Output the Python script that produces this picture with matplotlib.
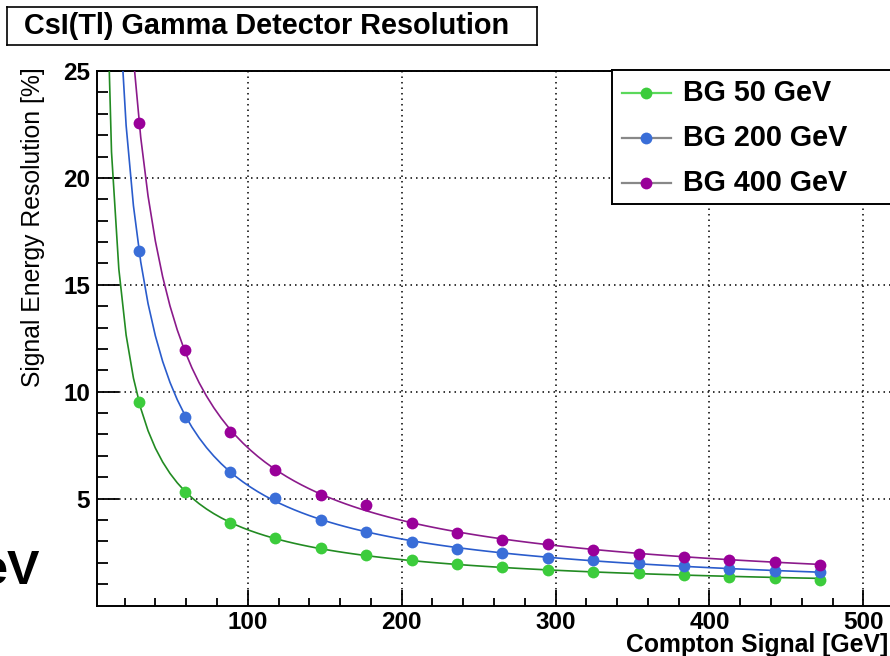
import numpy as np
import matplotlib
matplotlib.use("Agg")
import matplotlib.pyplot as plt
from matplotlib.lines import Line2D

plt.rcParams['font.family'] = ['Liberation Sans', 'DejaVu Sans']

# Compton signal energies (GeV)
signal_gev = [29.5, 59, 88.5, 118, 147.5, 177, 206.5, 236, 265.5, 295,
              324.5, 354, 383.5, 413, 442.5, 472]

# Signal energy resolution (%) for each background level
res_bg50 = [9.50, 5.31, 3.86, 3.16, 2.69, 2.35, 2.11, 1.92, 1.80, 1.67,
            1.59, 1.52, 1.41, 1.35, 1.30, 1.21]
res_bg200 = [16.57, 8.83, 6.25, 5.05, 4.02, 3.44, 2.99, 2.66, 2.45, 2.24,
             2.11, 1.98, 1.86, 1.72, 1.61, 1.55]
res_bg400 = [22.57, 11.96, 8.13, 6.33, 5.19, 4.69, 3.86, 3.41, 3.08, 2.86,
             2.61, 2.42, 2.27, 2.14, 2.02, 1.91]

series_labels = ["BG 50 GeV", "BG 200 GeV", "BG 400 GeV"]
marker_colors = ["#3ccc3c", "#3a6ed8", "#990099"]
curve_colors = ["#228b22", "#2a5ccc", "#8b1a8b"]
legend_line_colors = ["#5bd85b", "#888888", "#888888"]

x_ticks = [100, 200, 300, 400, 500]
y_ticks = [5, 10, 15, 20, 25]


def fit_power(x, y):
    """Least-squares fit of y = a * x**-p + c (scan p, linear in a, c)."""
    x = np.asarray(x, float)
    y = np.asarray(y, float)
    best = None
    for p in np.linspace(0.4, 1.6, 601):
        A = np.column_stack([x ** -p, np.ones_like(x)])
        coef, *_ = np.linalg.lstsq(A, y, rcond=None)
        err = np.sum((A @ coef - y) ** 2)
        if best is None or err < best[0]:
            best = (err, coef[0], p, coef[1])
    _, a, p, c = best
    return lambda t: a * np.asarray(t, float) ** -p + c


W, H = 890, 656
fig = plt.figure(figsize=(W / 100, H / 100), dpi=100)


def px_axes(x0, y0, x1, y1):
    return fig.add_axes([x0 / W, 1 - y1 / H, (x1 - x0) / W, (y1 - y0) / H])


ax = px_axes(96.9, 71, 894.1, 605.5)
ax.set_xlim(2, 520)
ax.set_ylim(0, 25)

for y, mc, cc in zip([res_bg50, res_bg200, res_bg400], marker_colors, curve_colors):
    f = fit_power(signal_gev, y)
    xs = np.linspace(2, signal_gev[-1], 100)
    ax.plot(xs, f(xs), color=cc, lw=1.2, zorder=3)
    ax.plot(signal_gev, y, 'o', color=mc, ms=8.5, mew=0, zorder=4)

ax.set_xticks(x_ticks)
ax.set_yticks(y_ticks)
ax.set_xticks(np.arange(20, 520, 20), minor=True)
ax.set_yticks(np.arange(1, 25, 1), minor=True)
ax.tick_params(axis='both', which='both', direction='in', top=False, right=False,
               width=1.3, labelsize=17.5)
ax.tick_params(axis='x', which='major', length=11.5, pad=4)
ax.tick_params(axis='x', which='minor', length=5.8)
ax.tick_params(axis='y', which='major', length=15.5, pad=5)
ax.tick_params(axis='y', which='minor', length=8)
for lab in ax.get_xticklabels() + ax.get_yticklabels():
    lab.set_fontweight('bold')
ax.grid(True, which='major', color='black', linestyle=(0, (1, 2.6)), linewidth=1.1, zorder=1)
for s in ax.spines.values():
    s.set_linewidth(1.4)

fig.text(888 / W, 1 - 652 / H, "Compton Signal [GeV]", ha='right', va='baseline',
         fontsize=17.8, fontweight='bold')
fig.text(33 / W, 1 - 67 / H, "Signal Energy Resolution [%]", rotation=90,
         ha='center', va='top', fontsize=17.8)

# Title box
tax = px_axes(7, 7, 537, 45)
tax.set_xticks([])
tax.set_yticks([])
for s in tax.spines.values():
    s.set_linewidth(1.2)
tax.text(0.49, 0.5, "CsI(Tl) Gamma Detector Resolution", ha='center', va='center',
         fontsize=20.8, fontweight='bold', transform=tax.transAxes)

# Legend box
lax = px_axes(612, 70, 900, 204)
lax.set_xlim(0, 288)
lax.set_ylim(134, 0)
lax.set_xticks([])
lax.set_yticks([])
for s in lax.spines.values():
    s.set_linewidth(1.4)
for i, (lab, mc, lc) in enumerate(zip(series_labels, marker_colors, legend_line_colors)):
    yy = 22.7 + 45 * i
    lax.add_line(Line2D([9.7, 58.7], [yy, yy], color=lc, lw=1.6))
    lax.plot([34], [yy], 'o', color=mc, ms=8.5, mew=0)
    lax.text(70.7, yy, lab, ha='left', va='center', fontsize=20.7, fontweight='bold')

fig.text(-20 / W, 1 - 572 / H, "eV", ha='left', va='center', fontsize=35, fontweight='bold')

fig.savefig("out.png", dpi=100)
